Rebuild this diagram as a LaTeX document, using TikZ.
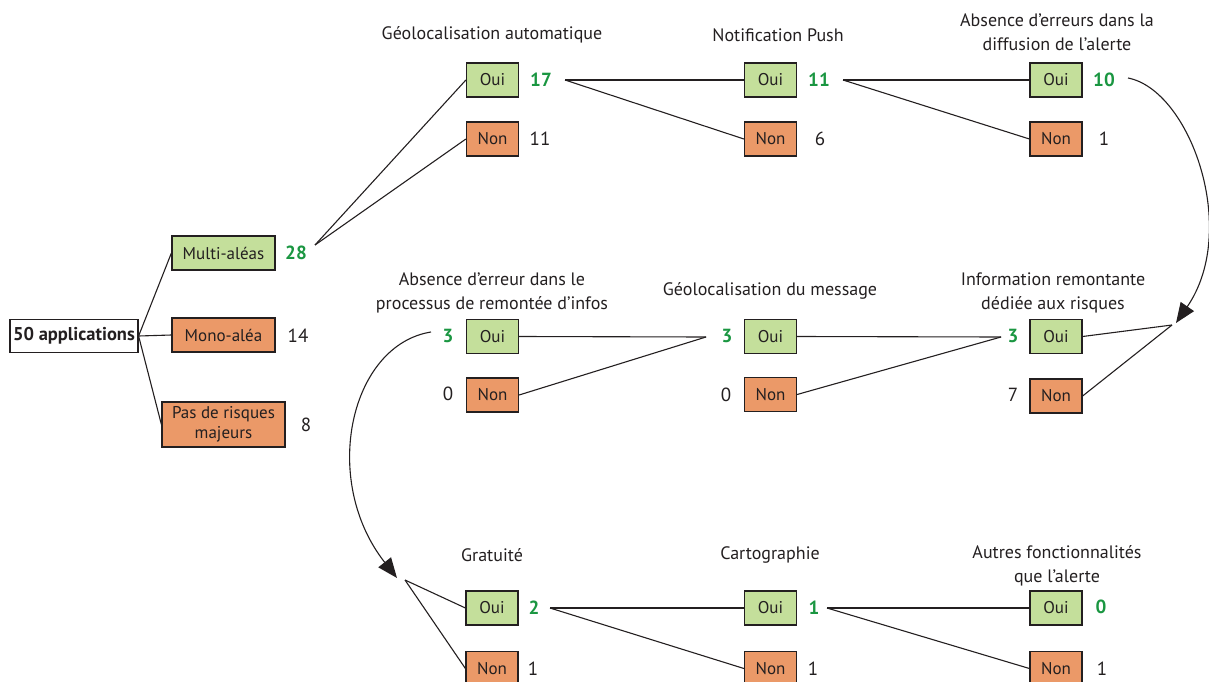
\documentclass[tikz,border=0pt]{standalone}
\usepackage{fontspec}
\setmainfont{PT Sans}
\usetikzlibrary{arrows.meta}
\definecolor{boxgreen}{RGB}{196,223,155}
\definecolor{boxorange}{RGB}{235,153,104}
\definecolor{numgreen}{RGB}{26,150,65}
\definecolor{ink}{RGB}{35,31,32}
\begin{document}
\begin{tikzpicture}[x=1pt,y=-1pt,
  box/.style={draw=ink, line width=1.2pt, minimum height=34pt, inner sep=0pt, text=ink, font=\fontsize{17}{20}\selectfont},
  oui/.style={box, fill=boxgreen, minimum width=52pt},
  non/.style={box, fill=boxorange, minimum width=52pt},
  num/.style={inner sep=0pt, text=ink, font=\fontsize{19}{20}\selectfont},
  gnum/.style={inner sep=0pt, text=numgreen, font=\bfseries\fontsize{19}{20}\selectfont},
  ttl/.style={align=center, text=ink, font=\fontsize{18}{24}\selectfont},
  link/.style={draw=ink, line width=1.1pt},
  bigarrow/.style={link, -{Triangle[length=20pt,width=16pt]}}
]
\useasboundingbox (0,0) rectangle (1209,682);

% root
\node[box, fill=white, minimum width=128pt, minimum height=33pt, font=\bfseries\fontsize{18.5}{20}\selectfont] (app) at (74,336) {50 applications};
\node[box, fill=boxgreen, minimum width=103pt] (multi) at (223.5,253) {Multi-aléas};
\node[box, fill=boxorange, minimum width=103pt] (mono) at (223.5,335) {Mono-aléa};
\node[box, fill=boxorange, minimum width=123pt, minimum height=45pt, align=center, font=\fontsize{17}{20}\selectfont] (pas) at (223.5,424.5) {Pas de risques\\majeurs};
\node[gnum] (n28) at (296,253) {28};
\node[num] (n14) at (298,336) {14};
\node[num] (n8) at (306,425) {8};
\draw[link] (app.east) -- (multi.west);
\draw[link] (app.east) -- (mono.west);
\draw[link] (app.east) -- (pas.west);

% row 1
\node[ttl] (t1) at (492,35) {Géolocalisation automatique};
\node[oui] (g1o) at (492.5,80) {Oui};
\node[non] (g1n) at (492.5,139) {Non};
\node[gnum] (n17) at (541,80) {17};
\node[num] (n11a) at (540,139) {11};

\node[ttl] (t2) at (778,35) {Notification Push};
\node[oui] (g2o) at (770.5,80) {Oui};
\node[non] (g2n) at (770.5,139) {Non};
\node[gnum] (n11) at (819,80) {11};
\node[num] (n6) at (820,139) {6};

\node[ttl] (t3) at (1057,32) {Absence d’erreurs dans la\\diffusion de l’alerte};
\node[oui] (g3o) at (1056,80) {Oui};
\node[non] (g3n) at (1056,139) {Non};
\node[gnum] (n10) at (1104,80) {10};
\node[num] (n1a) at (1104,139) {1};

\coordinate (f0) at (315,245);
\coordinate (f1) at (565,80);
\coordinate (f2) at (843,80);
\draw[link] (f0) -- (g1o.west);
\draw[link] (f0) -- (g1n.west);
\draw[link] (f1) -- (g2o.west);
\draw[link] (f1) -- (g2n.west);
\draw[link] (f2) -- (g3o.west);
\draw[link] (f2) -- (g3n.west);

% row 2
\node[ttl] (t6) at (1053,293) {Information remontante\\dédiée aux risques};
\node[oui] (m3o) at (1056,336.5) {Oui};
\node[non] (m3n) at (1056,396) {Non};
\node[gnum] (n3c) at (1013,336) {3};
\node[num] (n7) at (1013,395) {7};

\node[ttl] (t5) at (770,291) {Géolocalisation du message};
\node[oui] (m2o) at (770.5,336.5) {Oui};
\node[non] (m2n) at (770.5,394.5) {Non};
\node[gnum] (n3b) at (727,336) {3};
\node[num] (n0b) at (726,395) {0};

\node[ttl] (t4) at (492,293) {Absence d’erreur dans le\\processus de remontée d’infos};
\node[oui] (m1o) at (492.5,336.5) {Oui};
\node[non] (m1n) at (492.5,395) {Non};
\node[gnum] (n3a) at (448,336) {3};
\node[num] (n0a) at (448,394) {0};

\coordinate (f3) at (1172,325);
\coordinate (f4) at (1001,337);
\coordinate (f5) at (706,337);
\draw[link] (f3) -- (m3o.east);
\draw[link] (f3) -- (m3n.east);
\draw[link] (f4) -- (m2o.east);
\draw[link] (f4) -- (m2n.east);
\draw[link] (f5) -- (m1o.east);
\draw[link] (f5) -- (m1n.east);

% row 3
\node[ttl] (t7) at (492,555) {Gratuité};
\node[oui] (b1o) at (492,608) {Oui};
\node[non] (b1n) at (492,668.5) {Non};
\node[gnum] (n2) at (534,608) {2};
\node[num] (n1b) at (533,669) {1};

\node[ttl] (t8) at (770,555) {Cartographie};
\node[oui] (b2o) at (770.5,608) {Oui};
\node[non] (b2n) at (770.5,668.5) {Non};
\node[gnum] (n1c) at (814,608) {1};
\node[num] (n1d) at (813,669) {1};

\node[ttl] (t9) at (1057,566) {Autres fonctionnalités\\que l’alerte};
\node[oui] (b3o) at (1056,608) {Oui};
\node[non] (b3n) at (1056,668.5) {Non};
\node[gnum] (n0c) at (1101,607) {0};
\node[num] (n1e) at (1102,669) {1};

\coordinate (f6) at (405,580);
\coordinate (f7) at (550,608);
\coordinate (f8) at (827,608);
\draw[link] (f6) -- (b1o.west);
\draw[link] (f6) -- (b1n.west);
\draw[link] (f7) -- (b2o.west);
\draw[link] (f7) -- (b2n.west);
\draw[link] (f8) -- (b3o.west);
\draw[link] (f8) -- (b3n.west);

% curved arrows
\coordinate (c1s) at (1128,78);
\coordinate (c1e) at (1176,323);
\coordinate (c2s) at (431,332);
\coordinate (c2e) at (397,578);
\draw[bigarrow] (c1s) .. controls (1190,90) and (1240,230) .. (c1e);
\draw[bigarrow] (c2s) .. controls (350,345) and (320,480) .. (c2e);
\end{tikzpicture}
\end{document}
